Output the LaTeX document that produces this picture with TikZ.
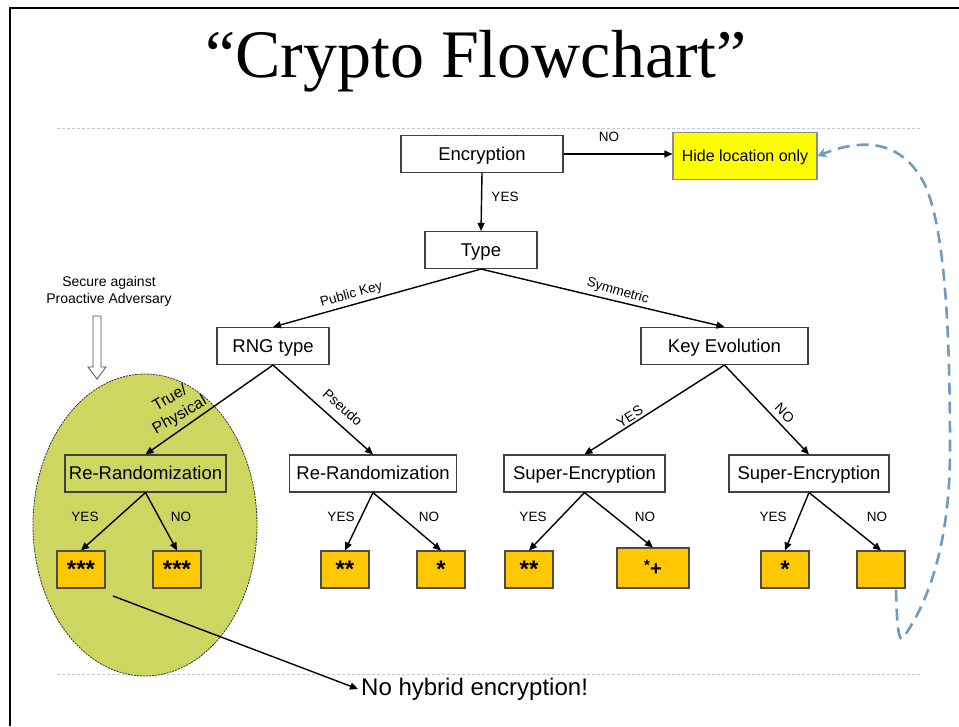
\documentclass[tikz,border=0pt]{standalone}
\usepackage{fontspec}
\setmainfont{Liberation Sans}
\newfontfamily\titlefont{Liberation Serif}
\usetikzlibrary{shapes.geometric,arrows.meta,calc}
\definecolor{leaf}{RGB}{255,200,0}
\definecolor{hideyellow}{RGB}{255,255,0}
\definecolor{ellgreen}{RGB}{205,214,97}
\definecolor{loopblue}{RGB}{111,155,192}
\definecolor{rulecol}{RGB}{180,205,228}
\definecolor{boxline}{RGB}{64,64,64}
\begin{document}
\begin{tikzpicture}[x=1pt,y=-1pt,
  box/.style={draw=boxline, line width=1.1pt, fill=white, rectangle, inner sep=0pt,
              minimum height=37pt, text height=16.7pt, text depth=3.9pt,
              font=\fontsize{18.5}{20}\selectfont},
  leafbox/.style={draw=black!70, line width=1.1pt, fill=leaf, inner sep=0pt,
              minimum width=48pt, minimum height=37pt, font=\bfseries\fontsize{24}{26}\selectfont},
  conn/.style={line width=1.4pt, -{Triangle[length=8pt,width=7pt]}},
  elab/.style={font=\fontsize{13.5}{15}\selectfont, inner sep=1pt},
  lab/.style={font=\fontsize{13.5}{15}\selectfont, inner sep=0pt},
  rulestyle/.style={draw=rulecol, line width=0.9pt, dash pattern=on 3pt off 2pt}
]
\useasboundingbox (0,0) rectangle (959,726);
% frame
\draw[line width=2.2pt] (10,726) -- (10,7.7) -- (959,7.7);
% title
\node[anchor=base, font=\titlefont\fontsize{68}{70}\selectfont, inner sep=0pt] (title) at (476,77) {“Crypto Flowchart”};
% rules
\draw[rulestyle] (57,128) -- (920,128);
\draw[rulestyle] (57,674) -- (920,674);
% ellipse
\node[ellipse, draw=black!80, line width=0.8pt, dash pattern=on 2pt off 1pt, fill=ellgreen,
      minimum width=224pt, minimum height=302pt, inner sep=0pt] (ell) at (145,525) {};
% secure label + hollow arrow
\node[font=\fontsize{14}{17}\selectfont, align=center, inner sep=0pt] (secure) at (109,291) {Secure against\\Proactive Adversary};
\draw[draw=black!70, line width=0.8pt, fill=white] (93,316) -- (101,316) -- (101,367) -- (106,367) -- (97,379) -- (88,367) -- (93,367) -- cycle;
% nodes
\node[box, minimum width=162pt] (enc) at (482,154) {Encryption};
\node[draw=black!45, line width=1.1pt, fill=hideyellow, minimum width=144pt, minimum height=47pt, inner sep=0pt,
      text height=14.5pt, text depth=3.4pt, font=\fontsize{16}{18}\selectfont] (hide) at (745,156) {Hide location only};
\node[box, minimum width=112pt] (type) at (481,250) {Type};
\node[box, minimum width=112pt] (rng) at (273,346) {RNG type};
\node[box, minimum width=167pt] (key) at (724.5,346) {Key Evolution};
\node[box, minimum width=161pt, fill=none] (rr1) at (145.5,473.5) {Re-Randomization};
\node[box, minimum width=167pt] (rr2) at (373,473.5) {Re-Randomization};
\node[box, minimum width=161pt] (se1) at (584.5,473.5) {Super-Encryption};
\node[box, minimum width=160pt] (se2) at (809,473.5) {Super-Encryption};
% leaves
\node[leafbox] (l1) at (81,569.5) {***};
\node[leafbox] (l2) at (177,569.5) {***};
\node[leafbox] (l3) at (345,569.5) {**};
\node[leafbox] (l4) at (441,569.5) {*};
\node[leafbox] (l5) at (529,569.5) {**};
\node[leafbox, minimum width=72pt, minimum height=40pt] (l6) at (653,568) {{\fontsize{15}{15}\selectfont *}\raisebox{-5pt}{\fontsize{20}{20}\selectfont +}};
\node[leafbox] (l7) at (785,569.5) {*};
\node[leafbox] (l8) at (881,569.5) {};
% connectors
\draw[conn] (enc.east) -- (hide.west |- enc.east);
\draw[conn] (enc.south) -- (type.north);
\draw[conn] (type.south) -- node[elab, sloped, above, pos=0.61, yshift=2pt] {Public Key} (rng.north);
\draw[conn] (type.south) -- node[elab, sloped, above, pos=0.55, yshift=2pt, rotate=-3] {Symmetric} (key.north);
\draw[conn] (rng.south) -- node[sloped, above, pos=0.68, align=center, inner sep=0pt, yshift=4pt, rotate=-5,
      font=\fontsize{16}{19.5}\selectfont] {True/\\Physical} (rr1.north);
\draw[conn] (rng.south) -- node[elab, sloped, above, pos=0.60, yshift=8pt, font=\fontsize{14}{15}\selectfont] {Pseudo} (rr2.north);
\draw[conn] (key.south) -- node[elab, sloped, above, pos=0.647, yshift=1pt, font=\fontsize{14}{15}\selectfont] {YES} (se1.north);
\draw[conn] (key.south) -- node[elab, sloped, above, pos=0.62, yshift=4pt, font=\fontsize{14}{15}\selectfont] {NO} (se2.north);
\draw[conn] (rr1.south) -- (l1.north);
\draw[conn] (rr1.south) -- (l2.north);
\draw[conn] (rr2.south) -- (l3.north);
\draw[conn] (rr2.south) -- (l4.north);
\draw[conn] (se1.south) -- (l5.north);
\draw[conn] (se1.south) -- (l6.north);
\draw[conn] (se2.south) -- (l7.north);
\draw[conn] (se2.south) -- (l8.north);
% edge labels
\node[lab] (lno) at (609,137) {NO};
\node[lab] (lyes) at (505,197) {YES};
\node[lab] (y1) at (85,517) {YES};
\node[lab] (n1) at (181,517) {NO};
\node[lab] (y2) at (341,517) {YES};
\node[lab] (n2) at (429,517) {NO};
\node[lab] (y3) at (533,517) {YES};
\node[lab] (n3) at (645,517) {NO};
\node[lab] (y4) at (773,517) {YES};
\node[lab] (n4) at (877,517) {NO};
% no hybrid
\node[anchor=west, inner sep=3pt, font=\fontsize{24}{26}\selectfont] (nohyb) at (358,689) {No hybrid encryption!};
\coordinate (hstart) at (113,596);
\draw[conn] (hstart) -- (nohyb.west);
% loop back
\coordinate (lstart) at ($(l8.south)+(15,1)$);
\draw[loopblue, line width=2.6pt, dash pattern=on 12pt off 7pt, -{Stealth[length=9pt,width=10pt]}]
  (lstart) .. controls (897,630) and (899,642) .. (903,638)
  .. controls (930,600) and (950,540) .. (950,450)
  .. controls (950,330) and (945,230) .. (925,185)
  .. controls (905,145) and (870,135) .. (hide.east);
\end{tikzpicture}
\end{document}
